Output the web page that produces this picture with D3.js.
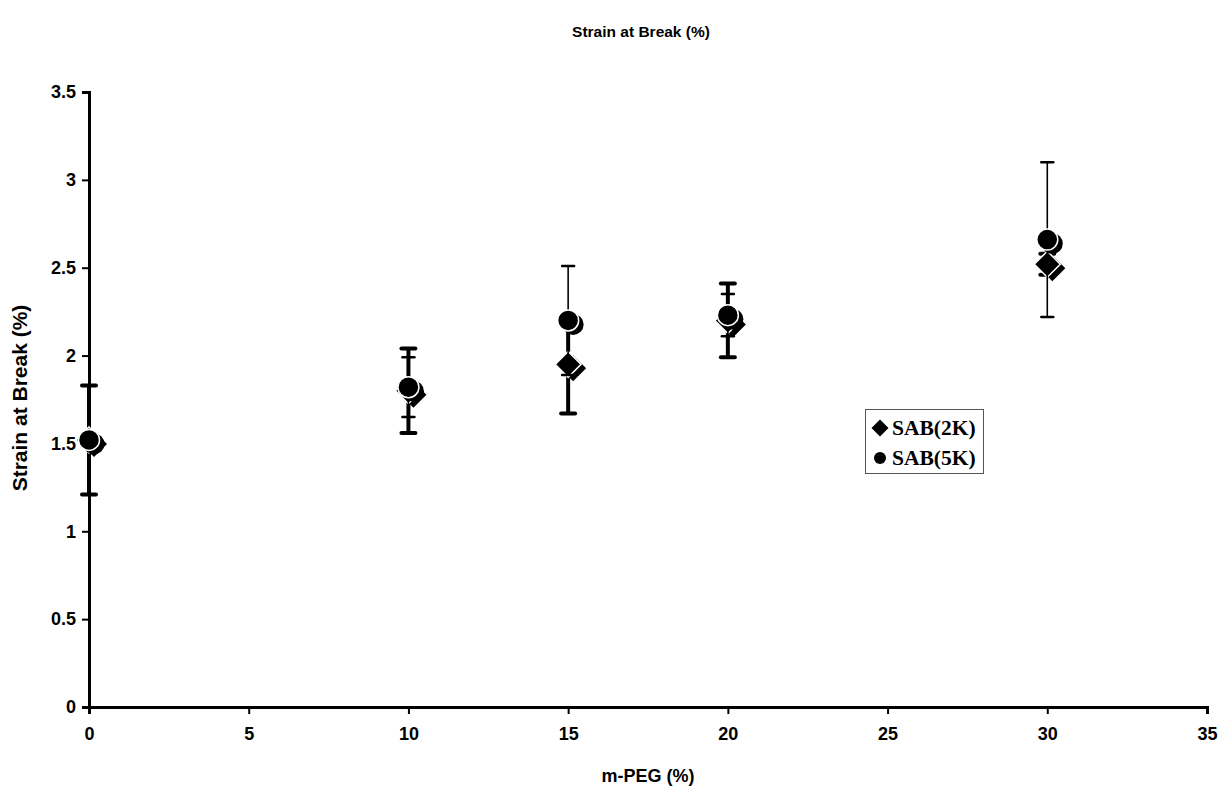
<!DOCTYPE html>
<html>
<head>
<meta charset="utf-8">
<script src="https://cdn.jsdelivr.net/npm/d3@7"></script>
<style>
  body { margin: 0; background: #fff; }
  svg { display: block; }
  text { font-family: "Liberation Sans", Arial, sans-serif; font-weight: bold; fill: #000; }
</style>
</head>
<body>
<script>
// m-PEG content (%)
var peg = [0, 10, 15, 20, 30];
// SAB(2K) mean and error
var sab2k = [1.52, 1.80, 1.95, 2.20, 2.52];
var sab2kErr = [0.31, 0.24, 0.28, 0.21, 0.06];
// SAB(5K) mean and error
var sab5k = [1.52, 1.82, 2.20, 2.23, 2.66];
var sab5kErr = [0.04, 0.17, 0.31, 0.12, 0.44];

var xTicks = [0, 5, 10, 15, 20, 25, 30, 35];
var yTicks = [0, 0.5, 1, 1.5, 2, 2.5, 3, 3.5];

var W = 1220, H = 788;
var margin = {top: 92, right: 13, bottom: 81, left: 89};

var svg = d3.select("body").append("svg")
    .attr("width", W)
    .attr("height", H);

var x = d3.scaleLinear().domain([0, 35]).range([margin.left, W - margin.right]);
var y = d3.scaleLinear().domain([0, 3.5]).range([H - margin.bottom, margin.top]);

// title
svg.append("text")
    .attr("x", 641).attr("y", 37)
    .attr("text-anchor", "middle")
    .style("font-size", "15.5px")
    .text("Strain at Break (%)");

// axes
var xAxis = svg.append("g")
    .attr("transform", "translate(0," + y(0) + ")")
    .call(d3.axisBottom(x).tickValues(xTicks).tickSize(7).tickPadding(13).tickFormat(d3.format("d")));
var yAxis = svg.append("g")
    .attr("transform", "translate(" + x(0) + ",0)")
    .call(d3.axisLeft(y).tickValues(yTicks).tickSize(7).tickPadding(6).tickFormat(function(d){ return String(d); }));

[xAxis, yAxis].forEach(function(a){
  a.select(".domain").attr("stroke", "#000").attr("stroke-width", 3);
  a.selectAll(".tick line").attr("stroke", "#000").attr("stroke-width", 2);
  a.selectAll(".tick text")
      .style("font-family", "'Liberation Sans', Arial, sans-serif")
      .style("font-weight", "bold")
      .style("font-size", "18px")
      .attr("fill", "#000");
});

// axis labels
svg.append("text")
    .attr("transform", "translate(27," + 398 + ") rotate(-90)")
    .attr("text-anchor", "middle")
    .style("font-size", "21px")
    .text("Strain at Break (%)");
svg.append("text")
    .attr("x", 648).attr("y", 782)
    .attr("text-anchor", "middle")
    .style("font-size", "18px")
    .text("m-PEG (%)");

function diamond(cx, cy, r) {
  return "M" + cx + "," + (cy - r) + "L" + (cx + r) + "," + cy +
         "L" + cx + "," + (cy + r) + "L" + (cx - r) + "," + cy + "Z";
}

var dx = 5, dy = 4; // shadow offset

function drawSeries(vals, errs, shape, lw, capW, capH) {
  var g = svg.append("g");
  var pts = peg.map(function(p, i){ return {x: p, y: vals[i], e: errs[i]}; });

  // error bars
  g.selectAll("line.bar").data(pts).enter().append("line")
      .attr("x1", function(d){ return x(d.x); })
      .attr("x2", function(d){ return x(d.x); })
      .attr("y1", function(d){ return y(d.y - d.e); })
      .attr("y2", function(d){ return y(d.y + d.e); })
      .attr("stroke", "#000").attr("stroke-width", lw);
  [-1, 1].forEach(function(s){
    g.selectAll("line.cap" + s).data(pts).enter().append("line")
        .attr("x1", function(d){ return x(d.x) - capW / 2; })
        .attr("x2", function(d){ return x(d.x) + capW / 2; })
        .attr("y1", function(d){ return y(d.y + s * d.e); })
        .attr("y2", function(d){ return y(d.y + s * d.e); })
        .attr("stroke", "#000").attr("stroke-width", capH)
        .attr("stroke-linecap", "round");
  });

  // shadow then marker
  [true, false].forEach(function(shadow){
    var ox = shadow ? dx : 0, oy = shadow ? dy : 0;
    if (shape === "circle") {
      g.selectAll("circle.m" + shadow).data(pts).enter().append("circle")
          .attr("cx", function(d){ return x(d.x) + ox; })
          .attr("cy", function(d){ return y(d.y) + oy; })
          .attr("r", 10.5)
          .attr("fill", "#000")
          .attr("stroke", shadow ? "none" : "#fff")
          .attr("stroke-width", 1.5);
    } else {
      g.selectAll("path.m" + shadow).data(pts).enter().append("path")
          .attr("d", function(d){ return diamond(x(d.x) + ox, y(d.y) + oy, 13); })
          .attr("fill", "#000")
          .attr("stroke", shadow ? "none" : "#fff")
          .attr("stroke-width", 1.5);
    }
  });
}

drawSeries(sab2k, sab2kErr, "diamond", 4, 14, 4);
drawSeries(sab5k, sab5kErr, "circle", 1.6, 12, 2.5);

// legend
var lg = svg.append("g");
lg.append("rect")
    .attr("x", 865.5).attr("y", 409.5)
    .attr("width", 118).attr("height", 64)
    .attr("fill", "#fff").attr("stroke", "#555").attr("stroke-width", 1);
var legendItems = [{label: "SAB(2K)", shape: "diamond"}, {label: "SAB(5K)", shape: "circle"}];
legendItems.forEach(function(it, i){
  var cy = 428 + i * 30;
  if (it.shape === "diamond") {
    lg.append("path").attr("d", diamond(880, cy, 8.5)).attr("fill", "#000");
  } else {
    lg.append("circle").attr("cx", 880).attr("cy", cy).attr("r", 6).attr("fill", "#000");
  }
  lg.append("text")
      .attr("x", 892).attr("y", cy + 7)
      .style("font-family", "'Liberation Serif', 'Times New Roman', serif")
      .style("font-size", "21.5px")
      .text(it.label);
});
</script>
</body>
</html>
